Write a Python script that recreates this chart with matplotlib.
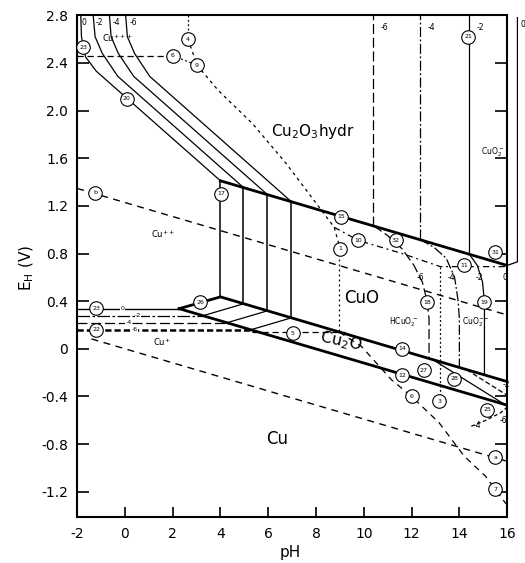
import matplotlib
matplotlib.use("Agg")
import matplotlib.pyplot as plt

plt.rcParams['font.family'] = ['DejaVu Sans']
plt.rcParams['axes.unicode_minus'] = False

# ---------------- data (pH, E_H in V) ----------------
ph_ticks = [-2, 0, 2, 4, 6, 8, 10, 12, 14, 16]
ph_tick_labels = ["-2", "0", "2", "4", "6", "8", "10", "12", "14", "16"]
e_ticks = [2.8, 2.4, 2.0, 1.6, 1.2, 0.8, 0.4, 0.0, -0.4, -0.8, -1.2]
e_tick_labels = ["2.8", "2.4", "2.0", "1.6", "1.2", "0.8", "0.4", "0", "-0.4", "-0.8", "-1.2"]

# thick domain boundaries
top_ph = [4.0, 16.0]
top_e = [1.41, 0.70]
band_up_ph = [2.27, 4.0, 16.0]
band_up_e = [0.337, 0.436, -0.275]
band_lo_ph = [2.27, 16.0]
band_lo_e = [0.337, -0.473]

# Cu++ / Cu2O3 curves (log conc 0, -2, -4, -6)
c0_ph = [-1.85, -1.82, -1.65, -1.20, 4.0]
c0_e = [2.80, 2.62, 2.45, 2.33, 1.41]
c2_ph = [-1.33, -1.25, -0.95, -0.30, 4.95]
c2_e = [2.80, 2.62, 2.48, 2.287, 1.356]
c4_ph = [-0.65, -0.58, -0.28, 0.37, 5.95]
c4_e = [2.80, 2.62, 2.48, 2.286, 1.297]
c6_ph = [0.03, 0.10, 0.40, 1.04, 6.95]
c6_e = [2.80, 2.62, 2.48, 2.286, 1.238]

# Cu / Cu++ horizontals
cu_h_e = [0.337, 0.278, 0.219, 0.160]
cu_h_end = [2.27, 3.27, 4.27, 5.27]
cu_h_lab_ph = [-0.10, 0.55, 0.15, 0.40]
cu_h_lab = ["0", "-2", "-4", "-6"]
# Cu++ / Cu2O lines inside band
hatch_ph0 = [3.27, 4.27, 5.27]
hatch_ph1 = [4.95, 5.95, 6.95]
hatch_e0 = [0.278, 0.219, 0.160]
hatch_e1 = [0.377, 0.318, 0.259]
# CuO / Cu++ verticals
vert_ph = [4.0, 4.95, 5.95, 6.95]
vert_lo = [0.436, 0.377, 0.318, 0.259]
vert_hi = [1.41, 1.356, 1.297, 1.238]
# Cu2O3 / CuO2- verticals (-6, -4, -2)
tv_ph = [10.4, 12.35, 14.4]
tv_lo = [1.034, 0.919, 0.798]
# "0" line outside the frame
out_ph = [16.43, 16.43, 16.0]
out_e = [2.78, 0.73, 0.70]

# CuO / HCuO2- / CuO2-- curves
k6_ph = [10.4, 11.0, 11.6, 12.1, 12.45, 12.65, 12.73, 12.73]
k6_e = [1.034, 0.95, 0.84, 0.70, 0.56, 0.40, 0.25, -0.082]
k4_ph = [12.35, 12.95, 13.45, 13.8, 13.95, 14.0, 14.0]
k4_e = [0.919, 0.85, 0.76, 0.60, 0.40, 0.25, -0.157]
k2_ph = [14.4, 14.75, 14.97, 15.05, 15.05]
k2_e = [0.798, 0.70, 0.56, 0.39, -0.219]
dv_ph = [13.2, 13.2]
dv_e = [0.69, -0.44]

# Cu2O hatch at right
rh1_ph = [12.9, 15.9]
rh1_e = [-0.092, -0.467]
rh2_ph = [14.3, 16.0]
rh2_e = [-0.175, -0.39]
rc_ph = [14.5, 15.1, 15.7, 16.0]
rc_e = [-0.65, -0.60, -0.54, -0.49]

# water lines
a_ph = [-1.4, 16.0]
a_e = [0.083, -0.944]
b_ph = [-2.0, 16.0]
b_e = [1.346, 0.284]

# dashed reaction lines
l8_ph = [-2.0, 1.9]
l8_e = [2.46, 2.46]
l4_ph = [2.64, 2.64]
l4_e = [2.80, 2.64]
l6_ph = [2.01, 3.02]
l6_e = [2.46, 2.38]
l9_ph = [2.64, 3.02, 3.9, 5.34, 6.73, 7.6, 8.76, 9.01]
l9_e = [2.60, 2.38, 2.17, 1.89, 1.56, 1.33, 1.02, 0.84]
l1_ph = [8.97, 8.97]
l1_e = [0.80, 0.14]
l10_ph = [8.76, 9.77, 11.6, 13.2, 16.0]
l10_e = [1.02, 0.91, 0.80, 0.69, 0.69]
l5_ph = [5.3, 9.2]
l5_e = [0.145, 0.145]
l7_ph = [8.97, 9.9, 11.16, 12.0, 13.15, 14.2, 15.1, 15.5, 15.95]
l7_e = [0.14, 0.02, -0.26, -0.40, -0.62, -0.90, -1.07, -1.18, -1.30]

# numbered circles
circ_ph = [-1.75, 0.07, 2.01, 2.64, 3.02, -1.24, 4.03, 9.05, 9.77, 9.01, 11.33,
           15.51, 14.37, 14.2, 12.64, 15.05, -1.2, -1.2, 3.15, 7.03, 11.59, 11.59,
           12.51, 13.78, 12.0, 13.15, 15.17, 15.5, 15.5]
circ_e = [2.53, 2.10, 2.46, 2.60, 2.38, 1.31, 1.30, 1.11, 0.91, 0.84, 0.91,
          0.81, 2.62, 0.70, 0.39, 0.39, 0.34, 0.16, 0.39, 0.13, 0.0, -0.22,
          -0.18, -0.25, -0.40, -0.44, -0.51, -0.91, -1.18]
circ_lab = ["23", "20", "6", "4", "9", "b", "17", "15", "10", "1", "32",
            "31", "21", "11", "18", "19", "23", "22", "26", "5", "14", "12",
            "27", "28", "6", "3", "25", "a", "7"]

# ---------------- figure ----------------
fig = plt.figure(figsize=(5.25, 5.63), dpi=100)
ax = fig.add_axes([0.147, 0.082, 0.819, 0.891])
ax.set_xlim(-2, 16)
ax.set_ylim(-1.41, 2.8)

K = 'black'
thin = 0.9
thick = 2.0

ax.plot(top_ph, top_e, color=K, lw=thick)
ax.plot(band_up_ph, band_up_e, color=K, lw=thick)
ax.plot(band_lo_ph, band_lo_e, color=K, lw=thick)

for x, y in [(c0_ph, c0_e), (c2_ph, c2_e), (c4_ph, c4_e), (c6_ph, c6_e)]:
    ax.plot(x, y, color=K, lw=thin)

styles_h = [dict(ls='-', lw=1.0), dict(ls=(0, (10, 2, 2, 2)), lw=0.9),
            dict(ls=(0, (8, 3)), lw=0.9), dict(ls=(0, (2.5, 1.2)), lw=1.8)]
for e, xe, st in zip(cu_h_e, cu_h_end, styles_h):
    ax.plot([-2, xe], [e, e], color=K, **st)

for x0, x1, e0, e1 in zip(hatch_ph0, hatch_ph1, hatch_e0, hatch_e1):
    ax.plot([x0, x1], [e0, e1], color=K, lw=thin)
for x, lo, hi in zip(vert_ph, vert_lo, vert_hi):
    ax.plot([x, x], [lo, hi], color=K, lw=1.1)

tv_styles = [(0, (8, 3)), (0, (8, 2, 1.5, 2)), '-']
for x, lo, st in zip(tv_ph, tv_lo, tv_styles):
    ax.plot([x, x], [lo, 2.8], color=K, lw=thin, ls=st)
ax.plot(out_ph, out_e, color=K, lw=thin, clip_on=False)

ax.plot(k6_ph, k6_e, color=K, lw=thin, ls=(0, (8, 3)))
ax.plot(k4_ph, k4_e, color=K, lw=thin, ls=(0, (8, 2, 1.5, 2)))
ax.plot(k2_ph, k2_e, color=K, lw=thin)
ax.plot(dv_ph, dv_e, color=K, lw=thin, ls=(0, (1.5, 2)))
ax.plot(rh1_ph, rh1_e, color=K, lw=thin)
ax.plot(rh2_ph, rh2_e, color=K, lw=thin, ls=(0, (4, 2)))
ax.plot(rc_ph, rc_e, color=K, lw=thin, ls=(0, (3, 2)))

ax.plot(a_ph, a_e, color=K, lw=1.0, ls=(0, (5, 4)))
ax.plot(b_ph, b_e, color=K, lw=1.0, ls=(0, (5, 4)))

ax.plot(l8_ph, l8_e, color=K, lw=thin, ls=(0, (5, 3)))
ax.plot(l4_ph, l4_e, color=K, lw=thin, ls=(0, (1.5, 2)))
ax.plot(l6_ph, l6_e, color=K, lw=thin, ls=(0, (1.5, 2)))
ax.plot(l9_ph, l9_e, color=K, lw=thin, ls=(0, (2.5, 3)))
ax.plot(l1_ph, l1_e, color=K, lw=thin, ls=(0, (1.5, 2.5)))
ax.plot(l10_ph, l10_e, color=K, lw=thin, ls=(0, (5, 3, 1.5, 3)))
ax.plot(l5_ph, l5_e, color=K, lw=thin, ls=(0, (5, 3)))
ax.plot(l7_ph, l7_e, color=K, lw=thin, ls=(0, (5, 4)))

ax.scatter(circ_ph, circ_e, s=95, facecolor='white', edgecolor=K, linewidth=0.8, zorder=5)
for x, y, t in zip(circ_ph, circ_e, circ_lab):
    ax.text(x, y, t, fontsize=4.5, ha='center', va='center', zorder=6)

# region labels
ax.text(7.87, 1.82, "Cu$_2$O$_3$hydr", fontsize=11, ha='center', va='center')
ax.text(9.9, 0.43, "CuO", fontsize=12, ha='center', va='center')
ax.text(9.05, 0.06, "Cu$_2$O", fontsize=11.5, ha='center', va='center', rotation=-12)
ax.text(6.35, -0.76, "Cu", fontsize=12, ha='center', va='center')

small = 5.5
ax.text(1.59, 0.96, "Cu$^{++}$", fontsize=6, ha='center', va='center')
ax.text(1.55, 0.06, "Cu$^{+}$", fontsize=6, ha='center', va='center')
ax.text(11.67, 0.22, "HCuO$_2^-$", fontsize=small, ha='center', va='center')
ax.text(14.67, 0.22, "CuO$_2^{--}$", fontsize=small, ha='center', va='center')
ax.text(15.4, 1.65, "CuO$_2^-$", fontsize=small, ha='center', va='center')
ax.text(-0.95, 2.61, "Cu$^{+++}$", fontsize=6, ha='left', va='center')

# concentration labels
for x, t in zip([-1.7, -1.05, -0.35, 0.35], ["0", "-2", "-4", "-6"]):
    ax.text(x, 2.74, t, fontsize=small, ha='center', va='center')
for x, t in zip([10.87, 12.85, 14.88], ["-6", "-4", "-2"]):
    ax.text(x, 2.70, t, fontsize=small, ha='center', va='center')
ax.text(16.65, 2.72, "0", fontsize=small, ha='center', va='center', clip_on=False)
for x, y, t in zip(cu_h_lab_ph, cu_h_e, cu_h_lab):
    ax.text(x, y, t, fontsize=4.5, ha='center', va='center',
            bbox=dict(facecolor='white', edgecolor='none', pad=0.1))
for x, t in zip([12.35, 13.65, 14.84, 15.9], ["-6", "-4", "-2", "0"]):
    ax.text(x, 0.60, t, fontsize=small, ha='center', va='center')
ax.text(15.95, -0.30, "-2", fontsize=small, ha='center', va='center')
ax.text(14.75, -0.64, "-4", fontsize=small, ha='center', va='center')
ax.text(15.85, -0.60, "-6", fontsize=small, ha='center', va='center')

# axes styling
for sp in ax.spines.values():
    sp.set_linewidth(1.5)
ax.set_xticks(ph_ticks)
ax.set_xticklabels(ph_tick_labels)
ax.set_yticks(e_ticks)
ax.set_yticklabels(e_tick_labels)
ax.tick_params(axis='y', direction='in', length=8.5, width=1.2, pad=6.5,
               labelsize=10, right=True)
ax.tick_params(axis='x', direction='in', length=7, width=1.2, pad=7, labelsize=10)

fig.text(27 / 525, 1 - 268 / 563, "E$_\\mathregular{H}$ (V)", rotation=90,
         fontsize=11, ha='center', va='center')
fig.text(290 / 525, 1 - 553 / 563, "pH", fontsize=11, ha='center', va='center')

fig.savefig("out.png", dpi=100)
